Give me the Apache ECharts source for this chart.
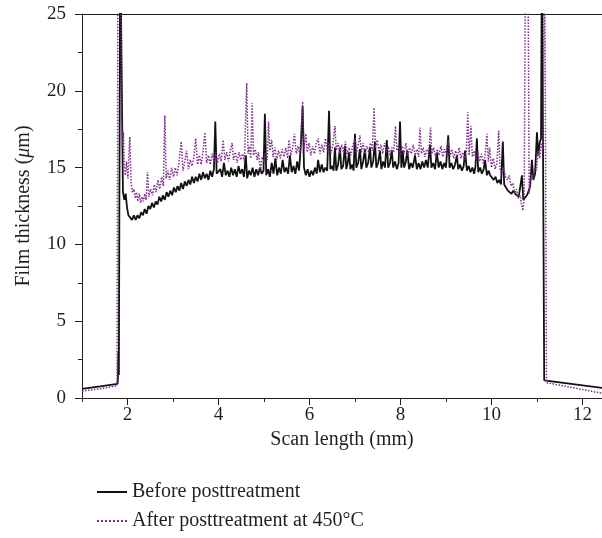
<!DOCTYPE html>
<html>
<head>
<meta charset="utf-8">
<script src="https://cdn.jsdelivr.net/npm/echarts@6/dist/echarts.min.js"></script>
<style>
  html, body { margin: 0; padding: 0; background: #fff; }
  #thickChart { width: 602px; height: 538px; }
</style>
</head>
<body>
<div id="thickChart"></div>
<script>
// 刻度
var xMajorTicks = [2, 4, 6, 8, 10, 12];
var yTicks = [0, 5, 10, 15, 20, 25];

// 图例名称
var seriesNames = ['Before posttreatment', 'After posttreatment at 450°C'];

// 处理前 [扫描长度 mm, 膜厚 μm]
var before = [
  [1.00,0.60],[1.40,0.75],[1.78,0.92],[1.79,1.3],[1.80,3.0],[1.81,1.5],[1.84,30],[1.87,30],[1.90,13.4],[1.93,12.9],[1.96,13.3],[1.99,12.4],[2.02,11.9],
  [2.06,11.8],[2.10,11.6],[2.14,11.9],[2.18,11.6],[2.22,11.9],[2.26,11.7],[2.30,12.1],[2.34,11.9],[2.38,12.3],[2.42,12.0],[2.46,12.5],[2.50,12.3],
  [2.54,12.7],[2.58,12.4],[2.62,12.8],[2.66,12.6],[2.70,13.1],[2.74,12.8],[2.78,13.2],[2.82,12.9],[2.86,13.4],[2.90,13.1],[2.94,13.5],[2.98,13.2],
  [3.02,13.7],[3.06,13.4],[3.10,13.8],[3.14,13.5],[3.18,14.0],[3.22,13.6],[3.26,14.1],[3.30,13.8],[3.34,14.2],[3.38,13.9],[3.42,14.4],[3.46,14.0],
  [3.50,14.4],[3.54,14.1],[3.58,14.6],[3.62,14.2],[3.66,14.7],[3.70,14.3],[3.74,14.6],[3.78,14.2],[3.82,14.8],[3.86,14.4],[3.90,14.9],[3.93,18.0],
  [3.96,14.6],[4.00,14.5],[4.04,14.9],[4.08,14.4],[4.12,15.3],[4.16,14.5],[4.20,14.8],[4.24,14.4],[4.28,15.0],[4.32,14.5],[4.36,14.9],[4.40,14.4],
  [4.44,15.1],[4.48,14.6],[4.52,14.9],[4.56,14.4],[4.60,15.8],[4.63,14.3],[4.67,14.8],[4.71,14.5],[4.75,15.0],[4.79,14.4],[4.83,14.9],[4.87,14.5],
  [4.91,15.0],[4.95,14.6],[4.99,14.8],[5.02,18.5],[5.05,14.5],[5.09,14.9],[5.13,14.4],[5.17,15.3],[5.21,14.6],[5.25,15.6],[5.29,14.5],[5.33,15.0],
  [5.37,14.6],[5.41,15.5],[5.45,14.7],[5.49,15.0],[5.53,14.6],[5.57,15.8],[5.61,14.7],[5.65,15.1],[5.69,14.6],[5.73,15.4],[5.77,14.8],[5.81,16.4],
  [5.85,19.0],[5.88,15.0],[5.92,14.5],[5.96,14.9],[6.00,14.4],[6.04,14.8],[6.08,14.5],[6.12,15.0],[6.16,14.6],[6.19,15.5],[6.23,14.7],[6.27,15.2],
  [6.31,14.7],[6.35,15.0],[6.39,14.8],[6.43,18.7],[6.46,14.9],[6.50,15.1],[6.53,14.8],[6.56,16.3],[6.59,14.8],[6.63,15.2],[6.67,16.3],[6.70,14.9],
  [6.74,15.1],[6.78,16.4],[6.81,14.9],[6.84,15.3],[6.87,16.0],[6.90,14.9],[6.94,15.2],[6.97,14.8],[7.00,17.2],[7.03,15.0],[7.07,15.3],[7.11,16.2],
  [7.14,14.9],[7.18,15.4],[7.22,16.2],[7.25,15.0],[7.29,15.3],[7.33,16.3],[7.36,15.0],[7.40,15.4],[7.44,16.7],[7.47,15.0],[7.51,15.3],[7.55,16.1],
  [7.58,14.9],[7.62,15.4],[7.66,15.0],[7.70,16.8],[7.73,15.0],[7.77,15.3],[7.81,16.1],[7.84,15.0],[7.88,15.4],[7.92,14.9],[7.96,15.3],[7.99,18.0],
  [8.02,15.0],[8.05,16.1],[8.08,15.0],[8.12,15.4],[8.15,16.1],[8.19,14.9],[8.23,15.3],[8.27,15.0],[8.32,15.8],[8.36,14.9],[8.40,15.3],[8.44,14.9],
  [8.48,15.4],[8.52,15.0],[8.56,15.5],[8.60,15.0],[8.65,16.5],[8.68,15.0],[8.72,15.3],[8.76,14.9],[8.80,16.0],[8.84,15.0],[8.88,15.4],[8.92,14.9],
  [8.96,15.3],[9.00,15.0],[9.05,17.1],[9.08,15.0],[9.12,15.3],[9.16,14.9],[9.20,15.2],[9.24,15.8],[9.27,14.9],[9.31,15.2],[9.35,14.8],[9.39,15.1],
  [9.42,16.1],[9.46,14.8],[9.50,15.1],[9.54,14.7],[9.58,15.0],[9.62,14.6],[9.65,15.1],[9.68,16.9],[9.71,14.7],[9.75,15.0],[9.79,14.6],[9.83,14.9],
  [9.86,15.5],[9.90,14.5],[9.94,14.8],[9.97,14.5],[10.01,14.6],[10.05,14.2],[10.09,14.4],[10.13,14.0],[10.17,14.2],[10.21,13.9],[10.25,16.7],
  [10.28,13.9],[10.32,13.8],[10.36,13.5],[10.40,13.6],[10.44,13.3],[10.48,13.5],[10.52,13.3],[10.56,13.4],[10.60,13.1],[10.64,13.2],[10.67,14.5],
  [10.70,12.9],[10.74,13.0],[10.78,13.2],[10.82,13.5],[10.85,13.8],[10.89,15.5],[10.92,14.2],[10.96,14.6],[11.00,17.3],[11.03,15.8],[11.06,16.6],
  [11.09,16.9],[11.11,30],[11.14,30],[11.16,1.15],[12.44,0.65]
];

// 450°C 处理后
var after = [
  [1.00,0.45],[1.40,0.6],[1.77,0.8],[1.79,30],[1.85,30],[1.87,18.1],[1.89,16.4],[1.91,17.3],[1.93,15.2],[1.95,14.5],[1.98,15.4],[2.01,14.3],
  [2.05,17.0],[2.08,14.0],[2.11,13.4],[2.14,13.6],[2.17,13.0],[2.20,13.4],[2.23,12.8],[2.26,13.3],[2.29,12.7],[2.32,13.1],[2.35,12.8],[2.38,13.3],
  [2.41,12.9],[2.44,14.7],[2.47,13.1],[2.51,13.6],[2.55,13.2],[2.59,13.9],[2.63,13.4],[2.67,14.2],[2.71,13.6],[2.75,14.4],[2.79,13.8],[2.82,18.4],
  [2.85,14.3],[2.89,14.8],[2.93,14.2],[2.97,15.0],[3.01,14.4],[3.05,15.0],[3.09,14.5],[3.13,15.3],[3.18,16.7],[3.22,14.8],[3.26,15.4],[3.30,16.1],
  [3.34,14.9],[3.38,15.5],[3.42,15.1],[3.46,15.7],[3.50,16.9],[3.54,15.2],[3.58,15.8],[3.62,15.2],[3.66,16.0],[3.70,17.3],[3.74,15.3],[3.78,15.8],
  [3.82,15.2],[3.86,15.9],[3.90,15.4],[3.94,16.0],[3.98,15.3],[4.02,15.9],[4.06,15.4],[4.10,16.8],[4.14,15.5],[4.18,16.0],[4.22,15.4],[4.26,16.1],
  [4.30,16.6],[4.33,15.5],[4.37,16.0],[4.41,15.3],[4.45,16.0],[4.49,15.5],[4.53,15.9],[4.57,15.4],[4.62,20.5],[4.65,15.9],[4.68,16.4],[4.71,15.6],
  [4.74,19.2],[4.77,15.8],[4.81,16.2],[4.85,15.5],[4.88,16.0],[4.92,14.8],[4.96,15.7],[5.00,15.4],[5.04,16.0],[5.07,15.5],[5.10,18.0],[5.13,16.1],
  [5.17,16.8],[5.20,15.7],[5.24,16.3],[5.28,15.5],[5.32,16.1],[5.36,15.6],[5.40,16.2],[5.44,15.7],[5.48,16.3],[5.52,15.6],[5.55,16.8],[5.59,15.8],
  [5.63,16.3],[5.67,17.2],[5.71,15.9],[5.75,16.4],[5.79,15.8],[5.85,19.3],[5.88,16.2],[5.92,17.2],[5.95,16.0],[5.99,16.6],[6.03,15.8],[6.07,16.4],
  [6.11,15.9],[6.15,16.6],[6.19,16.9],[6.23,15.9],[6.27,16.5],[6.31,16.0],[6.35,16.9],[6.39,16.1],[6.43,16.6],[6.47,15.9],[6.51,16.4],[6.56,17.7],
  [6.59,16.1],[6.63,16.6],[6.67,15.9],[6.71,16.5],[6.75,16.0],[6.79,16.7],[6.83,15.9],[6.87,16.3],[6.91,15.8],[6.95,16.4],[7.00,16.9],[7.03,15.9],
  [7.07,16.5],[7.11,17.1],[7.14,16.0],[7.18,16.6],[7.22,15.9],[7.26,16.4],[7.30,16.0],[7.34,16.6],[7.38,16.1],[7.42,18.9],[7.45,16.3],[7.49,16.8],
  [7.53,16.0],[7.57,16.5],[7.61,15.9],[7.65,16.6],[7.69,16.0],[7.73,16.4],[7.77,15.8],[7.81,16.3],[7.85,16.0],[7.89,17.7],[7.92,16.1],[7.96,16.5],
  [8.00,15.8],[8.04,16.4],[8.08,15.9],[8.12,16.6],[8.16,15.8],[8.20,16.3],[8.24,15.9],[8.28,16.5],[8.32,15.8],[8.36,16.2],[8.40,15.7],[8.43,17.6],
  [8.46,15.9],[8.50,16.3],[8.54,15.7],[8.58,16.2],[8.62,15.8],[8.66,17.6],[8.69,15.9],[8.73,16.3],[8.77,15.7],[8.81,16.2],[8.85,15.8],[8.89,16.4],
  [8.93,15.7],[8.97,16.2],[9.01,15.8],[9.05,16.8],[9.09,15.7],[9.13,16.2],[9.17,15.6],[9.21,16.1],[9.25,15.7],[9.29,16.3],[9.33,15.6],[9.37,16.0],
  [9.41,15.5],[9.45,16.1],[9.48,18.6],[9.51,15.8],[9.55,17.7],[9.58,15.7],[9.62,16.1],[9.66,15.5],[9.70,16.0],[9.74,15.4],[9.78,15.9],[9.82,15.3],
  [9.86,15.8],[9.90,17.2],[9.93,15.4],[9.96,16.3],[10.00,15.0],[10.04,15.6],[10.08,14.9],[10.12,15.3],[10.16,17.4],[10.19,14.8],[10.23,14.6],
  [10.27,15.0],[10.31,14.4],[10.35,14.2],[10.39,14.5],[10.43,13.8],[10.47,14.0],[10.51,13.3],[10.55,13.6],[10.59,13.0],[10.63,13.2],[10.66,12.6],
  [10.69,12.2],[10.72,13.0],[10.75,30],[10.80,30],[10.83,13.3],[10.87,14.6],[10.91,14.2],[10.95,15.0],[10.99,14.8],[11.02,16.1],[11.06,15.6],
  [11.10,16.6],[11.13,16.2],[11.17,30],[11.21,1.0],[12.44,0.3]
];

window.onload = function () {
  var chart = echarts.init(document.getElementById('thickChart'));
  var ink = '#231f20';
  var font = '"Liberation Serif", "DejaVu Serif", serif';

  var xMin = 1, xMax = 12.43;
  var xMinor = [];
  for (var i = 0; i < xMajorTicks.length; i++) { xMinor.push(xMajorTicks[i] - 1); }

  var option = {
    animation: false,
    textStyle: { fontFamily: font, color: ink },
    grid: { left: 82, right: 0, top: 14, bottom: 140 },
    legend: {
      orient: 'vertical',
      left: 96,
      top: 482,
      padding: 0,
      itemWidth: 30,
      itemHeight: 14,
      itemGap: 9,
      data: seriesNames,
      // 只显示线段，隐藏图例中的圆点
      itemStyle: { color: 'transparent', borderColor: 'transparent', borderWidth: 0, opacity: 0 },
      textStyle: { fontFamily: font, fontSize: 20, color: ink }
    },
    xAxis: [
      {
        type: 'value', position: 'bottom', min: xMin, max: xMax,
        name: 'Scan length (mm)', nameLocation: 'middle', nameGap: 31,
        nameTextStyle: { fontFamily: font, fontSize: 20, color: ink },
        axisLine: { onZero: false, lineStyle: { color: ink, width: 1 } },
        axisTick: { length: 7, customValues: xMajorTicks, lineStyle: { color: ink } },
        axisLabel: { customValues: xMajorTicks, margin: 8, fontFamily: font, fontSize: 19, color: ink },
        splitLine: { show: false }
      },
      {
        type: 'value', position: 'bottom', min: xMin, max: xMax,
        axisLine: { show: false, onZero: false },
        axisTick: { length: 4, customValues: xMinor, lineStyle: { color: ink } },
        axisLabel: { show: false },
        splitLine: { show: false }
      },
      {
        type: 'value', position: 'top', min: xMin, max: xMax,
        axisLine: { onZero: false, lineStyle: { color: ink, width: 1 } },
        axisTick: { show: false },
        axisLabel: { show: false },
        splitLine: { show: false }
      }
    ],
    yAxis: [
      {
        type: 'value', position: 'left', min: 0, max: 25, interval: 5,
        name: '{t|Film thickness (}{i|μ}{t|m)}', nameLocation: 'middle', nameGap: 48,
        nameTextStyle: {
          rich: {
            t: { fontFamily: font, fontSize: 20, color: ink },
            i: { fontFamily: font, fontSize: 20, color: ink, fontStyle: 'italic' }
          }
        },
        axisLine: { show: true, onZero: false, lineStyle: { color: ink, width: 1 } },
        axisTick: { length: 7, lineStyle: { color: ink } },
        axisLabel: {
          margin: 16, fontFamily: font, fontSize: 19, color: ink,
          formatter: function (v) { return yTicks.indexOf(v) >= 0 ? v : ''; }
        },
        splitLine: { show: false }
      },
      {
        type: 'value', position: 'left', min: 0, max: 25, interval: 2.5,
        axisLine: { show: false, onZero: false },
        axisTick: { length: 4, lineStyle: { color: ink } },
        axisLabel: { show: false },
        splitLine: { show: false }
      }
    ],
    series: [
      {
        name: seriesNames[0],
        type: 'line',
        data: before,
        symbol: 'none',
        clip: true,
        lineStyle: { color: '#111111', width: 1.8 },
        itemStyle: { color: '#111111' }
      },
      {
        name: seriesNames[1],
        type: 'line',
        data: after,
        symbol: 'none',
        clip: true,
        lineStyle: { color: '#7d2d8c', width: 1.5, type: 'dotted' },
        itemStyle: { color: '#7d2d8c' }
      }
    ]
  };

  chart.setOption(option);
};
</script>
</body>
</html>
